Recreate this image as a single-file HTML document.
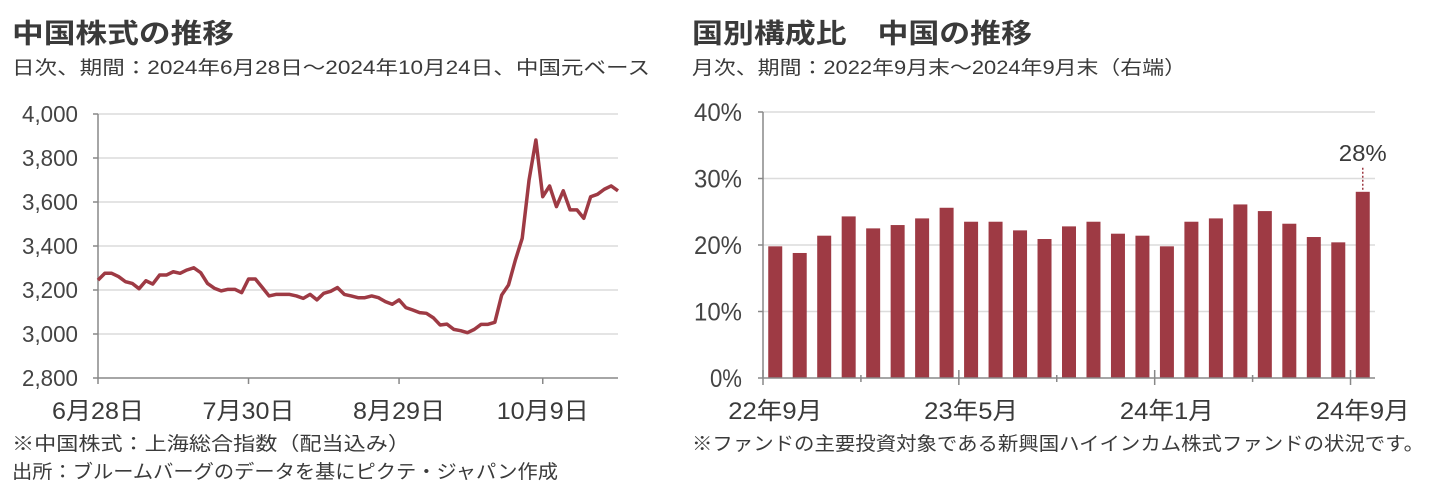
<!DOCTYPE html>
<html><head><meta charset="utf-8">
<style>
html,body{margin:0;padding:0;background:#fff;}
svg{display:block;font-family:"Liberation Sans","Noto Sans CJK JP",sans-serif;}
</style></head>
<body>
<svg id="c" width="1437" height="488" viewBox="0 0 1437 488" xmlns="http://www.w3.org/2000/svg">
<text x="12" y="43" font-size="27" font-weight="bold" fill="#3a3a3a" textLength="222" lengthAdjust="spacingAndGlyphs">中国株式の推移</text>
<text x="12" y="74" font-size="19" fill="#3a3a3a" textLength="638" lengthAdjust="spacingAndGlyphs">日次、期間：2024年6月28日～2024年10月24日、中国元ベース</text>
<text x="692" y="43" font-size="27" font-weight="bold" fill="#3a3a3a" textLength="340" lengthAdjust="spacingAndGlyphs">国別構成比　中国の推移</text>
<text x="692" y="74" font-size="19" fill="#3a3a3a" textLength="494" lengthAdjust="spacingAndGlyphs">月次、期間：2022年9月末～2024年9月末（右端）</text>
<text x="12" y="450" font-size="19" fill="#3a3a3a" textLength="398" lengthAdjust="spacingAndGlyphs">※中国株式：上海総合指数（配当込み）</text>
<text x="12" y="478" font-size="19" fill="#3a3a3a" textLength="546" lengthAdjust="spacingAndGlyphs">出所：ブルームバーグのデータを基にピクテ・ジャパン作成</text>
<text x="692" y="450" font-size="19" fill="#3a3a3a" textLength="732" lengthAdjust="spacingAndGlyphs">※ファンドの主要投資対象である新興国ハイインカム株式ファンドの状況です。</text>
<g id="left"></g>
<g id="right"></g>
</svg>
<script>
const lineValues=[3245,3276,3276,3261,3238,3230,3206,3242,3227,3268,3268,3283,3276,3291,3301,3279,3230,3208,3196,3203,3203,3188,3250,3250,3212,3173,3180,3180,3180,3173,3162,3180,3155,3185,3194,3211,3180,3173,3165,3165,3173,3165,3147,3135,3155,3120,3109,3097,3094,3074,3041,3045,3021,3015,3006,3021,3044,3044,3053,3177,3223,3336,3435,3700,3882,3624,3673,3579,3651,3564,3564,3526,3624,3635,3658,3673,3651];
const lineYTicks=[2800,3000,3200,3400,3600,3800,4000];
const lineYTickLabels=["2,800","3,000","3,200","3,400","3,600","3,800","4,000"];
const lineXTickIdx=[0,22,44,65];
const lineXTickLabels=["6月28日","7月30日","8月29日","10月9日"];

const barCategories=["22/9","22/10","22/11","22/12","23/1","23/2","23/3","23/4","23/5","23/6","23/7","23/8","23/9","23/10","23/11","23/12","24/1","24/2","24/3","24/4","24/5","24/6","24/7","24/8","24/9"];
const barValues=[19.8,18.8,21.4,24.3,22.5,23.0,24.0,25.6,23.5,23.5,22.2,20.9,22.8,23.5,21.7,21.4,19.8,23.5,24.0,26.1,25.1,23.2,21.2,20.4,28.0];
const barYTicks=[0,10,20,30,40];
const barYTickLabels=["0%","10%","20%","30%","40%"];
const barXLabelIdx=[0,8,16,24];
const barXLabels=["22年9月","23年5月","24年1月","24年9月"];

const NS="http://www.w3.org/2000/svg";
function mk(tag,attrs,parent,text){const e=document.createElementNS(NS,tag);for(const k in attrs)e.setAttribute(k,attrs[k]);if(text!==undefined)e.textContent=text;parent.appendChild(e);return e;}
const RED="#9e3a44";

// left line chart
const L=document.getElementById('left');
const lx0=98,lx1=618,ly0=378,ly1=114;
const lyS=v=>ly0-(v-2800)/(4000-2800)*(ly0-ly1);
const lxS=i=>lx0+i/(lineValues.length-1)*(lx1-lx0);
lineYTicks.forEach((t,k)=>{
  if(t>2800){const g=mk('line',{x1:lx0,x2:lx1,y1:lyS(t),y2:lyS(t),stroke:'#dcdcdc','stroke-width':1.5},L);
  
  }
  const tk=mk('line',{x1:lx0-5,x2:lx0,y1:lyS(t),y2:lyS(t),stroke:'#888','stroke-width':1.5},L);
  
  
  const tx=mk('text',{x:22,y:lyS(t)+8,'font-size':23,fill:'#444',textLength:56,lengthAdjust:'spacingAndGlyphs'},L,lineYTickLabels[k]);
  
  
});
const la=mk('path',{d:`M${lx0} ${ly1}V${ly0}H${lx1}`,fill:'none',stroke:'#888','stroke-width':1.5},L);


lineXTickIdx.forEach((i,k)=>{
  const tk=mk('line',{x1:lxS(i),x2:lxS(i),y1:ly0,y2:ly0+6,stroke:'#888','stroke-width':1.5},L);
  
  
  const w=92;
  const tx=mk('text',{x:lxS(i)-w/2,y:419,'font-size':24,fill:'#3a3a3a',textLength:w,lengthAdjust:'spacingAndGlyphs'},L,lineXTickLabels[k]);
  
  
});
const pl=mk('polyline',{points:lineValues.map((v,i)=>lxS(i)+','+lyS(v)).join(' '),fill:'none',stroke:RED,'stroke-width':3.5,'stroke-linejoin':'round'},L);



// right bar chart
const R=document.getElementById('right');
const bx0=763,bx1=1375,by0=378,by1=112;
const byS=v=>by0-v/40*(by0-by1);
const bw=(bx1-bx0)/barCategories.length;
const bxC=i=>bx0+bw*(i+0.5);
barYTicks.forEach((t,k)=>{
  if(t>0){const g=mk('line',{x1:bx0,x2:bx1,y1:byS(t),y2:byS(t),stroke:'#dcdcdc','stroke-width':1.5},R);
  
  }
  const tk=mk('line',{x1:bx0-5,x2:bx0,y1:byS(t),y2:byS(t),stroke:'#888','stroke-width':1.5},R);
  
  
  const w=barYTickLabels[k].length*16;
  const tx=mk('text',{x:742-w,y:byS(t)+9,'font-size':25,fill:'#444',textLength:w,lengthAdjust:'spacingAndGlyphs'},R,barYTickLabels[k]);
  
  
});
barValues.forEach((v,i)=>{
  const r=mk('rect',{x:bxC(i)-7,y:byS(v),width:14,height:by0-byS(v),fill:RED},R);
  
  
});
const ra=mk('path',{d:`M${bx0} ${by1}V${by0}H${bx1}`,fill:'none',stroke:'#888','stroke-width':1.5},R);


for(let i=0;i<barCategories.length;i+=4){
  const big=(i%8===0);
  const tk=mk('line',{x1:bx0+bw*i,x2:bx0+bw*i,y1:big?by0-8:by0-3,y2:by0+(big?7:4),stroke:'#888','stroke-width':1.5},R);
  
  
}
barXLabelIdx.forEach((i,k)=>{
  const tx=mk('text',{x:bxC(i)-47,y:419,'font-size':24,fill:'#3a3a3a',textLength:94,lengthAdjust:'spacingAndGlyphs'},R,barXLabels[k]);
  
  
});
const last=barValues.length-1;
const dl=mk('line',{x1:bxC(last),x2:bxC(last),y1:byS(barValues[last])-2,y2:byS(barValues[last])-25,stroke:RED,'stroke-width':1.5,'stroke-dasharray':'2,2'},R);


const lb=mk('text',{x:bxC(last)-24,y:byS(barValues[last])-31,'font-size':23,fill:'#3a3a3a',textLength:48,lengthAdjust:'spacingAndGlyphs'},R,Math.round(barValues[last])+'%');


</script>
</body></html>
